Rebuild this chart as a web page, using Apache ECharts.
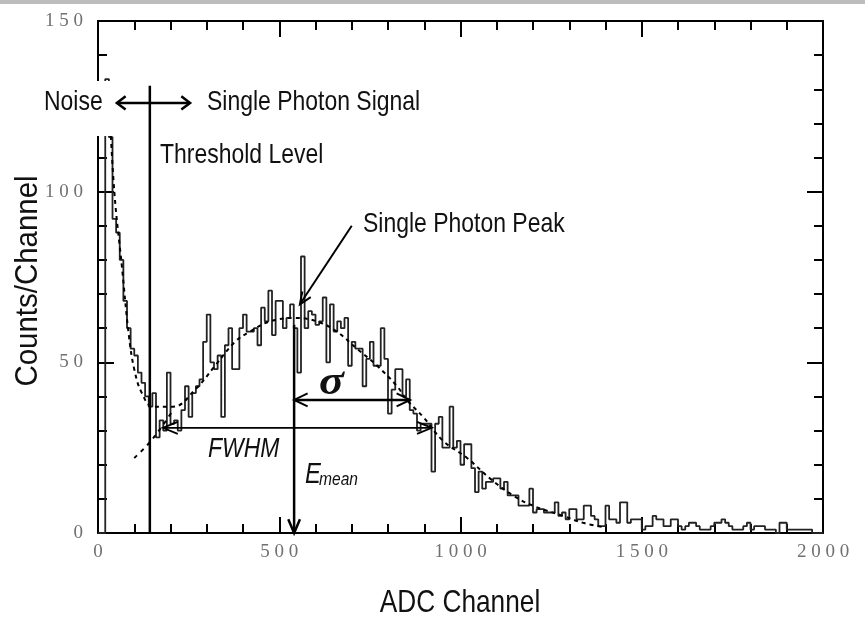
<!DOCTYPE html>
<html><head><meta charset="utf-8">
<script src="https://cdn.jsdelivr.net/npm/echarts@6/dist/echarts.min.js"></script>
<style>html,body{margin:0;padding:0;background:#fff}#c{width:865px;height:627px}</style>
</head><body><div id="c"></div>
<script>
// ---- data ----
const binWidth = 10; // ADC channels per histogram bin
const counts = [
  0, 0, 133, 116, 92, 88, 80, 68, 60, 54,
  52, 47, 44, 40, 37, 41, 28, 33, 30, 47,
  32, 33, 30, 36, 43, 34, 41, 43, 45, 56,
  64, 50, 48, 52, 34, 55, 60, 48, 48, 60,
  64, 59, 59, 60, 55, 66, 62, 71, 58, 68,
  68, 60, 63, 67, 60, 47, 81, 60, 65, 64,
  61, 62, 69, 50, 67, 59, 62, 60, 63, 49,
  56, 54, 54, 43, 51, 56, 49, 49, 60, 51,
  35, 42, 48, 48, 40, 45, 36, 35, 30, 32,
  32, 32, 18, 32, 34, 25, 25, 37, 25, 27,
  20, 26, 26, 19, 12, 18, 13, 15, 15, 16,
  16, 13, 15, 11, 11, 11, 8, 8, 8, 13,
  6, 7, 7, 6, 6, 6, 9, 5, 6, 4,
  7, 7, 4, 4, 8, 8, 5, 4, 2, 2,
  8, 4, 4, 3, 9, 9, 3, 4, 4, 4,
  1, 2, 2, 5, 4, 4, 2, 2, 4, 4,
  2, 1, 2, 3, 3, 2, 1, 1, 1, 2,
  3, 3, 4, 3, 2, 1, 1, 1, 2, 3,
  1, 2, 2, 2, 1, 1, 1, 0, 3, 3,
  1, 1, 1, 1, 1, 1, 1, 0, 0, 0
];
const fitChannels = [30, 45, 66, 85, 100, 121, 152, 207, 268, 323, 378, 419, 474, 543, 604, 659, 714, 770, 825, 852, 897, 952, 1018, 1081, 1145, 1200, 1283, 1338, 1404];
const fitValues   = [128, 100, 78, 58, 48, 41, 37, 37, 42, 49, 56, 59, 62, 63, 62, 59, 54, 49, 43, 39, 34, 27, 22, 16, 11, 8, 5, 3, 1.5];
const tailChannels = [100, 138, 175, 207];
const tailValues   = [22, 26, 31, 36];
const xTickLabels = [0, 500, 1000, 1500, 2000];
const yTickLabels = [0, 50, 100, 150];
// annotation anchors in data units
const thresholdChannel = 143, thresholdTop = 131;
const meanChannel = 541, meanTop = 61;
const sigmaLevel = 39, sigmaEnd = 861;
const fwhmLevel = 30.8, fwhmStart = 179, fwhmEnd = 921;
const peakArrowFrom = [700, 90], peakArrowTo = [557, 67];
const regionArrowLevel = 126, regionArrowFrom = 52, regionArrowTo = 254;

// ---- chart ----
const histData = counts.map((v, i) => [i * binWidth, v]);
histData.push([counts.length * binWidth, counts[counts.length - 1]]);
const fitData = fitChannels.map((c, i) => [c, fitValues[i]]);
const tailData = tailChannels.map((c, i) => [c, tailValues[i]]);

const SANS = '"Liberation Sans",Arial,sans-serif';
const NARROW_SCALE = 0.82;
const spaced = v => String(v).split('').join(' ');
function tickCommon() {
  return {
    axisLine: { onZero: false, lineStyle: { color: '#000', width: 2 } },
    axisTick: { show: true, inside: true, length: 16, lineStyle: { color: '#000', width: 2 } },
    minorTick: { show: true, splitNumber: 5, length: 9, lineStyle: { color: '#000', width: 2 } },
    splitLine: { show: false },
    minorSplitLine: { show: false }
  };
}
const labelStyle = { fontFamily: '"Liberation Serif","DejaVu Serif",serif', fontSize: 19, color: '#707070', formatter: spaced };

const chart = echarts.init(document.getElementById('c'), null, { renderer: 'canvas' });
chart.setOption({
  backgroundColor: '#fff',
  animation: false,
  grid: { left: 98, right: 42, top: 21, bottom: 94 },
  xAxis: [
    Object.assign({ type: 'value', min: xTickLabels[0], max: xTickLabels[xTickLabels.length - 1], interval: 500, position: 'bottom',
      axisLabel: Object.assign({ margin: 10 }, labelStyle) }, tickCommon()),
    Object.assign({ type: 'value', min: xTickLabels[0], max: xTickLabels[xTickLabels.length - 1], interval: 500, position: 'top',
      axisLabel: { show: false } }, tickCommon())
  ],
  yAxis: [
    Object.assign({ type: 'value', min: yTickLabels[0], max: yTickLabels[yTickLabels.length - 1], interval: 50, position: 'left',
      axisLabel: Object.assign({ margin: 15 }, labelStyle) }, tickCommon()),
    Object.assign({ type: 'value', min: yTickLabels[0], max: yTickLabels[yTickLabels.length - 1], interval: 50, position: 'right',
      axisLabel: { show: false } }, tickCommon())
  ],
  series: [
    { type: 'line', data: histData, step: 'end', symbol: 'none', clip: true,
      lineStyle: { color: '#222', width: 1.8 }, z: 3 },
    { type: 'line', data: fitData, smooth: 0.4, symbol: 'none', clip: true,
      lineStyle: { color: '#000', width: 2, type: [4, 4] }, z: 4 },
    { type: 'line', data: tailData, smooth: 0.4, symbol: 'none', clip: true,
      lineStyle: { color: '#000', width: 2, type: [4, 5] }, z: 4 }
  ]
});

const P = (x, y) => chart.convertToPixel({ xAxisIndex: 0, yAxisIndex: 0 }, [x, y]);
const Z = 100;
function seg(a, b, w) {
  return { type: 'line', z: Z + 2, shape: { x1: a[0], y1: a[1], x2: b[0], y2: b[1] }, style: { stroke: '#000', lineWidth: w } };
}
function head(tip, from, len, ang, w) {
  const dx = from[0] - tip[0], dy = from[1] - tip[1];
  const d = Math.hypot(dx, dy), ux = dx / d, uy = dy / d;
  const r = a => [ux * Math.cos(a) - uy * Math.sin(a), ux * Math.sin(a) + uy * Math.cos(a)];
  const r1 = r(ang), r2 = r(-ang);
  return { type: 'polyline', z: Z + 2, shape: { points: [[tip[0] + r1[0] * len, tip[1] + r1[1] * len], tip, [tip[0] + r2[0] * len, tip[1] + r2[1] * len]] },
    style: { stroke: '#000', lineWidth: w, fill: null, lineJoin: 'miter' } };
}
function txt(x, y, text, font, extra, el) {
  return Object.assign({ type: 'text', z: Z + 3, x: x, y: y, scaleX: NARROW_SCALE,
    style: Object.assign({ text: text, font: font, fill: '#111', verticalAlign: 'middle', textAlign: 'left' }, extra || {}) }, el || {});
}

const g = [];
// top grey strip and the white backing of the region labels
g.push({ type: 'rect', z: Z, shape: { x: 0, y: 0, width: 865, height: 4 }, style: { fill: '#bdbdbd' } });
g.push({ type: 'rect', z: Z, shape: { x: 0, y: 81, width: 440, height: 55 }, style: { fill: '#fff' } });

// threshold line
const t0 = P(thresholdChannel, 0), t1 = P(thresholdChannel, thresholdTop);
g.push(seg(t0, t1, 2.5));
// noise <-> signal arrow
const ra = P(regionArrowFrom, regionArrowLevel), rb = P(regionArrowTo, regionArrowLevel);
g.push(seg(ra, rb, 2.5), head(ra, rb, 11, 0.65, 2.5), head(rb, ra, 11, 0.65, 2.5));
// E mean arrow
const m0 = P(meanChannel, meanTop), m1 = P(meanChannel, 0);
g.push(seg(m0, m1, 2.5), head(m1, m0, 15, 0.4, 2.5));
// sigma arrow
const s0 = P(meanChannel, sigmaLevel), s1 = P(sigmaEnd, sigmaLevel);
g.push(seg(s0, s1, 2.5), head(s0, s1, 15, 0.45, 2), head(s1, s0, 15, 0.45, 2));
// FWHM arrow
const f0 = P(fwhmStart, fwhmLevel), f1 = P(fwhmEnd, fwhmLevel);
g.push(seg(f0, f1, 1.6), head(f0, f1, 16, 0.38, 1.8), head(f1, f0, 16, 0.38, 1.8));
// peak arrow
const p0 = P(peakArrowFrom[0], peakArrowFrom[1]), p1 = P(peakArrowTo[0], peakArrowTo[1]);
g.push(seg(p0, p1, 2), head(p1, p0, 13, 0.4, 2));

// labels
const F28 = '28px ' + SANS;
g.push(txt(44, 102, 'Noise', F28));
g.push(txt(207, 102, 'Single Photon Signal', F28));
g.push(txt(160, 155, 'Threshold Level', F28));
g.push(txt(363, 224, 'Single Photon Peak', F28));
g.push(txt(208, 449, 'FWHM', 'italic 28px ' + SANS));
g.push(txt(305, 489, 'E', 'italic 29px ' + SANS, { verticalAlign: 'bottom' }));
g.push(txt(319, 489, 'mean', 'italic 19px ' + SANS, { verticalAlign: 'bottom' }));
g.push(txt(319, 383, 'σ', 'bold italic 42px "Liberation Serif","DejaVu Serif",serif', null, { scaleX: 1.1 }));
// axis titles
g.push(txt(28, 281, 'Counts/Channel', '32px ' + SANS, { textAlign: 'center' }, { rotation: Math.PI / 2, scaleX: 0.92 }));
g.push(txt(460, 603, 'ADC Channel', '32px ' + SANS, { textAlign: 'center' }));

chart.setOption({ graphic: { elements: g } });
</script>
</body></html>
